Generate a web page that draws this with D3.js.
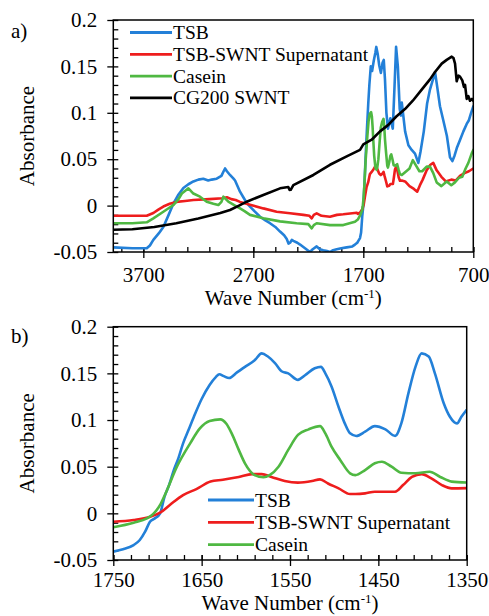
<!DOCTYPE html>
<html><head><meta charset="utf-8">
<script src="https://cdn.jsdelivr.net/npm/d3@7"></script>
<style>html,body{margin:0;padding:0;background:#fff;}svg{display:block;}
svg text{font-family:"Liberation Serif","Times New Roman",Tinos,"DejaVu Serif","Noto Serif",serif;}</style>
</head><body>
<script>
// ---------- DATA ----------
const yMajorValues = [0.2, 0.15, 0.1, 0.05, 0, -0.05];
const yMajorLabels = ["0.2", "0.15", "0.1", "0.05", "0", "-0.05"];
const topXTicks = [3700, 2700, 1700, 700];
const botXTicks = [1750, 1650, 1550, 1450, 1350];
const topSeriesNames = ["TSB", "TSB-SWNT Supernatant", "Casein", "CG200 SWNT"];
const botSeriesNames = ["TSB", "TSB-SWNT Supernatant", "Casein"];
const seriesColors = ["#2380d8", "#ee1d1d", "#4fb842", "#000000"];

const topTSB = [[3975,-0.045],[3800,-0.046],[3669,-0.046],[3640,-0.043],[3609,-0.037],[3560,-0.030],[3518,-0.023],[3470,-0.010],[3427,0.002],[3380,0.012],[3336,0.019],[3290,0.023],[3245,0.026],[3200,0.028],[3155,0.029],[3110,0.027],[3078,0.028],[3033,0.029],[2990,0.032],[2970,0.037],[2957,0.040],[2940,0.037],[2912,0.033],[2880,0.029],[2866,0.027],[2851,0.023],[2821,0.015],[2791,0.009],[2760,0.003],[2730,-0.001],[2690,-0.006],[2639,-0.012],[2590,-0.016],[2548,-0.019],[2500,-0.023],[2457,-0.028],[2420,-0.032],[2396,-0.036],[2380,-0.041],[2366,-0.040],[2350,-0.037],[2336,-0.038],[2300,-0.040],[2275,-0.042],[2230,-0.046],[2185,-0.050],[2160,-0.047],[2124,-0.044],[2095,-0.047],[2064,-0.048],[2030,-0.049],[2003,-0.050],[1975,-0.048],[1942,-0.047],[1900,-0.046],[1851,-0.045],[1800,-0.044],[1776,-0.042],[1755,-0.040],[1745,-0.038],[1730,-0.035],[1720,-0.029],[1710,-0.012],[1700,0.000],[1690,0.022],[1680,0.05],[1668,0.08],[1655,0.11],[1645,0.13],[1632,0.150],[1620,0.145],[1605,0.156],[1590,0.165],[1582,0.171],[1570,0.164],[1555,0.151],[1540,0.143],[1525,0.154],[1514,0.157],[1503,0.136],[1490,0.100],[1476,0.083],[1454,0.094],[1432,0.083],[1416,0.129],[1402,0.171],[1386,0.150],[1369,0.104],[1358,0.097],[1350,0.111],[1320,0.080],[1290,0.065],[1260,0.060],[1230,0.056],[1200,0.046],[1180,0.058],[1150,0.080],[1120,0.110],[1094,0.125],[1064,0.137],[1048,0.144],[1033,0.132],[1003,0.107],[973,0.092],[940,0.075],[912,0.052],[890,0.048],[870,0.054],[850,0.062],[820,0.071],[790,0.080],[760,0.088],[740,0.092],[720,0.100],[700,0.107]];

const topSupernatant = [[3975,-0.011],[3800,-0.011],[3669,-0.011],[3609,-0.008],[3560,-0.004],[3518,-0.001],[3460,0.002],[3400,0.004],[3320,0.005],[3245,0.006],[3100,0.007],[2980,0.008],[2940,0.009],[2900,0.007],[2860,0.006],[2821,0.004],[2730,0.001],[2609,-0.003],[2488,-0.0066],[2366,-0.0083],[2245,-0.010],[2190,-0.011],[2169,-0.0137],[2150,-0.010],[2124,-0.0083],[2080,-0.011],[2003,-0.012],[1940,-0.010],[1882,-0.0094],[1820,-0.0085],[1760,-0.0077],[1750,-0.009],[1727,-0.0072],[1708,-0.0036],[1697,0.0007],[1686,0.009],[1671,0.0196],[1656,0.025],[1640,0.034],[1626,0.036],[1608,0.039],[1593,0.042],[1582,0.042],[1571,0.039],[1556,0.0346],[1541,0.0329],[1525,0.0346],[1516,0.0364],[1507,0.032],[1495,0.0268],[1482,0.0207],[1465,0.0214],[1454,0.0232],[1431,0.0232],[1422,0.0303],[1412,0.039],[1401,0.042],[1390,0.0375],[1378,0.0303],[1367,0.0268],[1350,0.027],[1320,0.026],[1280,0.021],[1240,0.018],[1210,0.015],[1185,0.022],[1160,0.028],[1124,0.038],[1090,0.044],[1064,0.046],[1033,0.038],[990,0.031],[950,0.026],[900,0.028],[860,0.027],[821,0.032],[780,0.035],[740,0.037],[700,0.040]];

const topCasein = [[3975,-0.019],[3800,-0.019],[3669,-0.018],[3609,-0.0137],[3518,-0.0066],[3427,0.0006],[3380,0.007],[3350,0.013],[3290,0.0186],[3245,0.013],[3185,0.0096],[3124,0.0042],[3063,0.002],[3018,0.0006],[2990,0.004],[2972,0.0096],[2950,0.007],[2927,0.0042],[2866,0.000],[2821,-0.003],[2780,-0.006],[2730,-0.010],[2609,-0.0137],[2457,-0.017],[2306,-0.019],[2200,-0.020],[2169,-0.0245],[2150,-0.021],[2124,-0.019],[2003,-0.021],[1882,-0.021],[1776,-0.0174],[1750,-0.015],[1727,-0.010],[1712,-0.0054],[1705,-0.0008],[1697,0.009],[1691,0.021],[1678,0.05],[1663,0.075],[1652,0.091],[1641,0.099],[1629,0.1007],[1622,0.096],[1616,0.0857],[1608,0.068],[1601,0.0536],[1590,0.041],[1580,0.0386],[1573,0.041],[1563,0.050],[1552,0.068],[1541,0.084],[1529,0.090],[1516,0.0935],[1510,0.0857],[1503,0.0714],[1493,0.057],[1482,0.0429],[1476,0.041],[1465,0.0464],[1454,0.0536],[1446,0.0553],[1435,0.050],[1424,0.0435],[1408,0.0429],[1392,0.0446],[1380,0.039],[1367,0.034],[1350,0.033],[1320,0.036],[1280,0.040],[1250,0.049],[1215,0.042],[1190,0.037],[1165,0.037],[1124,0.042],[1094,0.042],[1064,0.035],[1033,0.025],[990,0.021],[942,0.026],[900,0.022],[867,0.025],[830,0.030],[800,0.031],[770,0.040],[745,0.046],[715,0.056],[700,0.060]];

const topCG200 = [[3975,-0.026],[3800,-0.0255],[3600,-0.023],[3400,-0.019],[3200,-0.014],[3000,-0.008],[2912,-0.0047],[2830,0.000],[2760,0.0042],[2609,0.0114],[2457,0.0186],[2382,0.020],[2370,0.0168],[2360,0.017],[2336,0.022],[2154,0.033],[2003,0.044],[1851,0.053],[1730,0.060],[1700,0.066],[1624,0.071],[1548,0.080],[1473,0.087],[1400,0.096],[1321,0.104],[1250,0.113],[1169,0.125],[1094,0.136],[1048,0.144],[987,0.153],[942,0.157],[896,0.1605],[880,0.159],[866,0.153],[851,0.134],[835,0.140],[821,0.139],[800,0.135],[785,0.128],[775,0.130],[760,0.115],[745,0.118],[730,0.113],[712,0.115],[700,0.113]];

const botTSB = [[1750,-0.041],[1739,-0.0386],[1727,-0.034],[1720,-0.0286],[1714,-0.0197],[1708.5,-0.009],[1703,-0.0054],[1697,0.000],[1692,0.018],[1687,0.030],[1682,0.045],[1676,0.060],[1671,0.075],[1665,0.089],[1659,0.103],[1650,0.1225],[1641,0.1375],[1634,0.146],[1630,0.149],[1625,0.147],[1619,0.145],[1610,0.151],[1601,0.157],[1590,0.164],[1582,0.1714],[1575,0.168],[1567,0.161],[1559,0.152],[1552,0.150],[1541,0.143],[1533,0.148],[1522,0.1554],[1515,0.157],[1510,0.150],[1503,0.136],[1495,0.114],[1488,0.0964],[1482,0.0857],[1475,0.0829],[1465,0.0875],[1454,0.0935],[1442,0.090],[1431,0.083],[1424,0.0964],[1416,0.1286],[1408,0.157],[1401,0.1714],[1393,0.168],[1386,0.150],[1376,0.118],[1369,0.1035],[1361,0.0964],[1356,0.1035],[1350,0.111]];

const botSupernatant = [[1750,-0.009],[1727,-0.0072],[1708,-0.0036],[1697,0.0007],[1686,0.009],[1671,0.0196],[1656,0.026],[1640,0.034],[1626,0.036],[1608,0.039],[1593,0.042],[1582,0.042],[1571,0.039],[1556,0.0346],[1541,0.0329],[1525,0.0346],[1516,0.0364],[1507,0.032],[1495,0.0268],[1482,0.0207],[1476,0.0207],[1465,0.0214],[1454,0.0232],[1442,0.0232],[1431,0.0232],[1422,0.0303],[1412,0.039],[1401,0.042],[1390,0.0375],[1378,0.0303],[1367,0.0268],[1350,0.027]];

const botCasein = [[1750,-0.015],[1727,-0.010],[1712,-0.0054],[1705,-0.0008],[1697,0.009],[1691,0.021],[1678,0.05],[1663,0.075],[1652,0.091],[1641,0.099],[1629,0.1007],[1622,0.096],[1616,0.0857],[1608,0.068],[1601,0.0536],[1590,0.041],[1580,0.0386],[1573,0.041],[1563,0.050],[1552,0.068],[1541,0.084],[1529,0.090],[1516,0.0935],[1510,0.0857],[1503,0.0714],[1493,0.057],[1482,0.0429],[1476,0.041],[1465,0.0464],[1454,0.0536],[1446,0.0553],[1435,0.050],[1424,0.0435],[1408,0.0429],[1392,0.0446],[1380,0.039],[1367,0.034],[1350,0.033]];

// ---------- DRAW ----------
const W = 489, H = 616;
const svg = d3.select("body").append("svg").attr("width", W).attr("height", H);

function panel(cfg) {
  const x = d3.scaleLinear().domain(cfg.xDomain).range([cfg.left, cfg.right]);
  const y = d3.scaleLinear().domain([-0.05, 0.2]).range([cfg.bottom, cfg.top]);
  const g = svg.append("g");
  const clipId = "clip" + cfg.id;
  svg.append("clipPath").attr("id", clipId).append("rect")
    .attr("x", cfg.left).attr("y", cfg.top - 2)
    .attr("width", cfg.right - cfg.left).attr("height", cfg.bottom - cfg.top + 2);

  const cleanAxis = s => {
    s.attr("font-family", null).attr("font-size", null);
    s.select(".domain").remove();
    s.selectAll("line").attr("stroke", "#000").attr("stroke-width", 1.3);
    s.selectAll("text").attr("font-size", 21).attr("fill", "#000");
  };

  // minor y ticks (inside)
  const yMinor = d3.range(-5, 21).map(i => i / 100);
  g.append("g").attr("transform", `translate(${cfg.left},0)`)
    .call(d3.axisLeft(y).tickValues(yMinor).tickSize(-5).tickFormat(""))
    .call(cleanAxis);
  // major y ticks (outside) with labels
  g.append("g").attr("transform", `translate(${cfg.left},0)`)
    .call(d3.axisLeft(y).tickValues(yMajorValues).tickSize(6).tickPadding(10)
      .tickFormat((d, i) => yMajorLabels[i]))
    .call(cleanAxis);

  // minor x ticks (inside)
  const [a, b] = cfg.xDomain;
  const xMinor = d3.range(Math.min(a, b), Math.max(a, b) + 0.1, 1)
    .filter(v => (v - cfg.xMinorBase) % cfg.xMinorStep === 0);
  g.append("g").attr("transform", `translate(0,${cfg.bottom})`)
    .call(d3.axisBottom(x).tickValues(xMinor).tickSize(-5).tickFormat(""))
    .call(cleanAxis);
  g.append("g").attr("transform", `translate(0,${cfg.bottom})`)
    .call(d3.axisBottom(x).tickValues(cfg.xTicks).tickSize(6).tickPadding(cfg.xPad).tickFormat(d3.format("d")))
    .call(cleanAxis)
    .call(s => s.selectAll("line").attr("y1", -5));

  // series
  const line = d3.line().x(d => x(d[0])).y(d => y(d[1])).curve(cfg.curve);
  const lines = g.append("g").attr("clip-path", `url(#${clipId})`);
  cfg.series.forEach((s, i) => {
    lines.append("path").datum(s).attr("d", line).attr("fill", "none")
      .attr("stroke", seriesColors[i]).attr("stroke-width", 2.6)
      .attr("stroke-linejoin", "round").attr("stroke-linecap", "round");
  });

  // frame
  g.append("rect").attr("x", cfg.left).attr("y", cfg.top)
    .attr("width", cfg.right - cfg.left).attr("height", cfg.bottom - cfg.top)
    .attr("fill", "none").attr("stroke", "#000").attr("stroke-width", 1.5);

  // legend
  const lg = g.append("g");
  cfg.names.forEach((n, i) => {
    const yy = cfg.legY + i * cfg.legStep;
    lg.append("line").attr("x1", cfg.legX1).attr("x2", cfg.legX2).attr("y1", yy).attr("y2", yy)
      .attr("stroke", seriesColors[i]).attr("stroke-width", 2.8);
    lg.append("text").attr("x", cfg.legX2 + 1).attr("y", yy + 6.5).attr("font-size", 19.5)
      .attr("fill", "#000").text(n);
  });

  // axis titles
  g.append("text").attr("transform", `translate(${cfg.yTitleX},${(cfg.top + cfg.bottom) / 2}) rotate(-90)`)
    .attr("text-anchor", "middle").attr("font-size", 21).attr("fill", "#000").text("Absorbance");
  const xt = g.append("text").attr("x", (cfg.left + cfg.right) / 2).attr("y", cfg.xTitleY)
    .attr("text-anchor", "middle").attr("font-size", 21).attr("fill", "#000");
  xt.append("tspan").text("Wave Number (cm");
  xt.append("tspan").attr("dy", -7).attr("font-size", 13).text("-1");
  xt.append("tspan").attr("dy", 7).text(")");

  // panel label
  g.append("text").attr("x", 11).attr("y", cfg.labelY).attr("font-size", 21).attr("fill", "#000").text(cfg.label);
}

panel({
  id: "a", left: 113.3, right: 473.3, top: 20, bottom: 252,
  xDomain: [3973, 700], xTicks: topXTicks, xMinorStep: 200, xMinorBase: 700, xPad: 9,
  series: [topTSB, topSupernatant, topCasein, topCG200],
  names: topSeriesNames, curve: d3.curveLinear,
  legX1: 130, legX2: 172, legY: 32.5, legStep: 21.8,
  yTitleX: 34, xTitleY: 305, label: "a)", labelY: 38
});

panel({
  id: "b", left: 113.3, right: 466.7, top: 326.7, bottom: 560,
  xDomain: [1750, 1350], xTicks: botXTicks, xMinorStep: 20, xMinorBase: 1350, xPad: 6,
  series: [botTSB, botSupernatant, botCasein],
  names: botSeriesNames, curve: d3.curveMonotoneX,
  legX1: 208, legX2: 254, legY: 500, legStep: 22.3,
  yTitleX: 34, xTitleY: 610, label: "b)", labelY: 343
});
</script>
</body></html>
